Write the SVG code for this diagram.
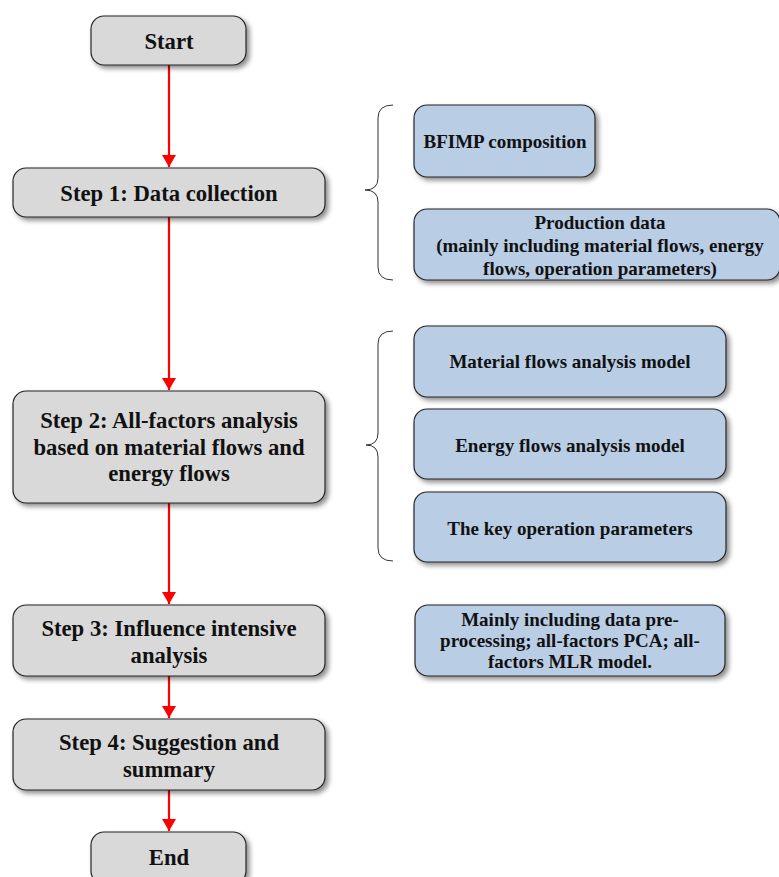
<svg xmlns="http://www.w3.org/2000/svg" width="779" height="877" viewBox="0 0 779 877">
<defs>
<filter id="sh" x="-10%" y="-10%" width="130%" height="140%">
<feDropShadow dx="3" dy="3" stdDeviation="2.5" flood-color="#000" flood-opacity="0.45"/>
</filter>
<marker id="ah" markerWidth="12" markerHeight="14" refX="12" refY="7" orient="auto" markerUnits="userSpaceOnUse" viewBox="0 0 12 14">
<path d="M0,0 L12,7 L0,14 z" fill="#ff0000"/>
</marker>
</defs>
<style>
.g{fill:#d9d9d9;stroke:#262626;stroke-width:1.2;filter:url(#sh)}
.b{fill:#b9cde5;stroke:#262626;stroke-width:1.2;filter:url(#sh)}
.tl{font-family:"Liberation Serif","Times New Roman",serif;font-weight:bold;font-size:22.7px;fill:#111;text-anchor:middle}
.tr{font-family:"Liberation Serif","Times New Roman",serif;font-weight:bold;font-size:19px;fill:#111;text-anchor:middle}
.ar{stroke:#ff0000;stroke-width:2.2;fill:none;marker-end:url(#ah)}
.br{stroke:#333;stroke-width:1;fill:none}
</style>
<rect width="779" height="877" fill="#fff"/>
<g id="connectors">
<line class="ar" x1="169" y1="65" x2="169" y2="167"/>
<line class="ar" x1="169" y1="217" x2="169" y2="390"/>
<line class="ar" x1="169" y1="503" x2="169" y2="604"/>
<line class="ar" x1="169" y1="676" x2="169" y2="718"/>
<line class="ar" x1="169" y1="790" x2="169" y2="831"/>
<path class="br" d="M393,105 Q378,105 378,118 L378,178 Q378,190 365,190 Q378,190 378,202 L378,267 Q378,280 393,280"/>
<path class="br" d="M393,331 Q378,331 378,344 L378,433 Q378,445 366,445 Q378,445 378,457 L378,548 Q378,561 393,561"/>
</g>
<g id="start"><rect class="g" x="91" y="16" width="155" height="49" rx="13"/><text class="tl" x="169" y="49">Start</text></g>
<g id="step1"><rect class="g" x="13" y="168" width="312" height="49" rx="13"/><text class="tl" x="169" y="200.5">Step 1: Data collection</text></g>
<g id="step2"><rect class="g" x="13" y="391" width="312" height="112" rx="13"/><text class="tl" x="169" y="427.5">Step 2: All-factors analysis</text><text class="tl" x="169" y="454.5">based on material flows and</text><text class="tl" x="169" y="480.5">energy flows</text></g>
<g id="step3"><rect class="g" x="13" y="605" width="312" height="71" rx="13"/><text class="tl" x="169" y="635.5">Step 3: Influence intensive</text><text class="tl" x="169" y="662.5">analysis</text></g>
<g id="step4"><rect class="g" x="13" y="719" width="312" height="71" rx="13"/><text class="tl" x="169" y="749.5">Step 4: Suggestion and</text><text class="tl" x="169" y="776.5">summary</text></g>
<g id="end"><rect class="g" x="91" y="832" width="155" height="52" rx="13"/><text class="tl" x="169" y="864.5">End</text></g>
<g id="bfimp"><rect class="b" x="414" y="105" width="181" height="72" rx="13"/><text class="tr" x="505" y="147.5">BFIMP composition</text></g>
<g id="production"><rect class="b" x="414" y="209" width="366" height="71" rx="13"/><text class="tr" x="600" y="228.5">Production data</text><text class="tr" x="600" y="251.5">(mainly including material flows, energy</text><text class="tr" x="600" y="274.5">flows, operation parameters)</text></g>
<g id="material"><rect class="b" x="414" y="326" width="312" height="71" rx="13"/><text class="tr" x="570" y="367.5">Material flows analysis model</text></g>
<g id="energy"><rect class="b" x="414" y="409" width="312" height="70" rx="13"/><text class="tr" x="570" y="451.5">Energy flows analysis model</text></g>
<g id="keyparams"><rect class="b" x="414" y="492" width="312" height="70" rx="13"/><text class="tr" x="570" y="534.5">The key operation parameters</text></g>
<g id="mainly"><rect class="b" x="415" y="605" width="310" height="71" rx="13"/><text class="tr" x="570" y="625.5">Mainly including data pre-</text><text class="tr" x="570" y="646.5">processing; all-factors PCA; all-</text><text class="tr" x="570" y="667.5">factors MLR model.</text></g>
</svg>
